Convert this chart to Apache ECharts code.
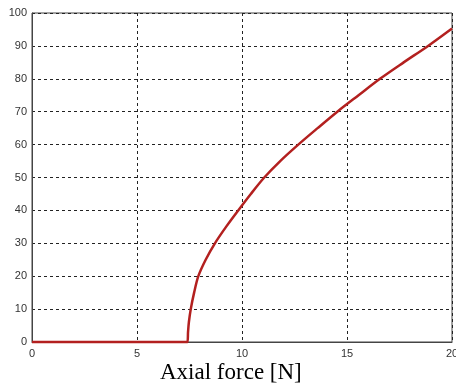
<!DOCTYPE html>
<html>
<head>
<meta charset="utf-8">
<script src="https://cdn.jsdelivr.net/npm/echarts@6/dist/echarts.min.js"></script>
<style>html,body{margin:0;padding:0;background:#fff;}#c{width:456px;height:390px;}</style>
</head>
<body>
<div id="c"></div>
<script>
var xLabel = 'Axial force [N]';
var forceX = [0, 7.40, 7.43, 7.47, 7.56, 7.72, 7.92, 8.27, 8.71, 9.24, 9.82, 10.42, 11.06, 11.82, 12.68, 13.60, 14.54, 15.55, 16.57, 17.70, 18.86, 20];
var valueY = [0, 0, 3, 6, 10, 15, 20, 25, 30, 35, 40, 45, 50, 55, 60, 65, 70, 75, 80, 85, 90, 95.3];

var chart = echarts.init(document.getElementById('c'), null, {renderer: 'canvas'});
var pts = forceX.map(function (x, i) { return [x, valueY[i]]; });
var labelStyle = {color: '#333', fontFamily: 'Liberation Sans, Arial, sans-serif', fontSize: 11};
chart.setOption({
  animation: false,
  backgroundColor: '#fff',
  grid: {left: 32, right: 4, top: 13, bottom: 48, show: true, borderColor: '#444', borderWidth: 1, outerBoundsMode: 'none', containLabel: false},
  xAxis: {
    type: 'value', min: 0, max: 20, interval: 5,
    axisLine: {show: true, lineStyle: {color: '#444', width: 1}},
    axisTick: {show: false},
    axisLabel: Object.assign({margin: 6}, labelStyle),
    splitLine: {show: true, lineStyle: {color: '#222', type: [3, 3], width: 1}}
  },
  yAxis: {
    type: 'value', min: 0, max: 100, interval: 10,
    axisLine: {show: true, lineStyle: {color: '#444', width: 1}},
    axisTick: {show: false},
    axisLabel: Object.assign({margin: 5}, labelStyle),
    splitLine: {show: true, lineStyle: {color: '#222', type: [3, 3], width: 1}}
  },
  graphic: [{
    type: 'text', left: 160, top: 361,
    style: {text: xLabel, fill: '#000', font: '23px "Liberation Serif", "Times New Roman", serif'}
  }],
  series: [{
    type: 'line', data: pts, showSymbol: false, smooth: 0.3,
    lineStyle: {color: '#b3201f', width: 2.5},
    clip: false
  }]
});
</script>
</body>
</html>
